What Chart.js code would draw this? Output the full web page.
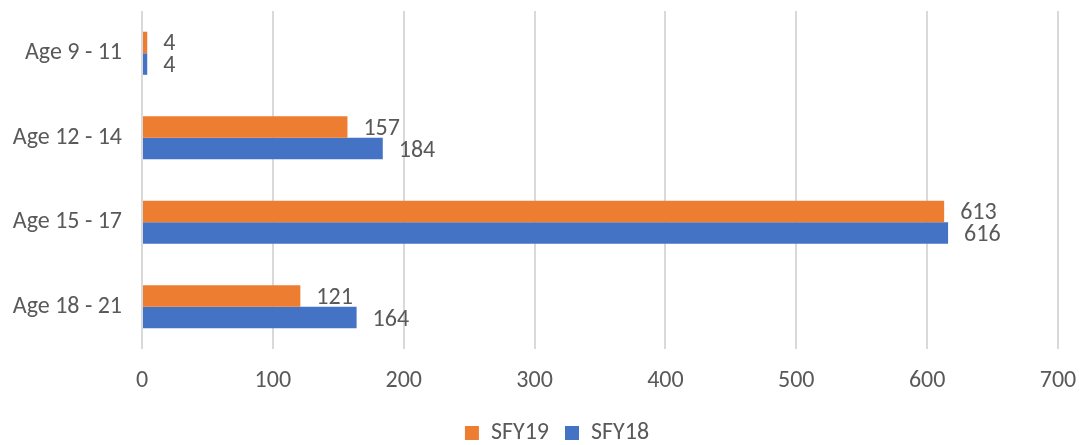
<!DOCTYPE html>
<html>
<head>
<meta charset="utf-8">
<script src="https://cdn.jsdelivr.net/npm/chart.js@4/dist/chart.umd.min.js"></script>
<style>
  html, body { margin: 0; padding: 0; background: #fff; }
  #wrap { width: 1081px; height: 445px; }
</style>
</head>
<body>
<div id="wrap"><canvas id="ageChart"></canvas></div>
<script>
'use strict';

const categories = ['Age 9 - 11', 'Age 12 - 14', 'Age 15 - 17', 'Age 18 - 21'];
const sfy19 = [4, 157, 613, 121];
const sfy18 = [4, 184, 616, 164];
const xTicks = [0, 100, 200, 300, 400, 500, 600, 700];

const textColor = '#595959';
const fontFamily = "Carlito, 'Open Sans', Lato, sans-serif";
const fontSize = 24;

// draws the value next to the end of each bar
const barLabels = {
    id: 'barLabels',
    afterLayout(chart) {
        // legend sits a bit right of centre in the original
        chart.legend.left += 28;
        chart.legend.right += 28;
    },
    afterDatasetsDraw(chart) {
        const ctx = chart.ctx;
        ctx.save();
        ctx.fillStyle = textColor;
        ctx.font = fontSize + 'px ' + fontFamily;
        ctx.textBaseline = 'middle';
        ctx.textAlign = 'left';
        chart.data.datasets.forEach((ds, i) => {
            const meta = chart.getDatasetMeta(i);
            meta.data.forEach((bar, j) => {
                ctx.fillText(ds.data[j], bar.x + 16, bar.y + 2);
            });
        });
        ctx.restore();
    }
};

new Chart('ageChart', {
    type: 'bar',
    data: {
        labels: categories,
        datasets: [
            { label: 'SFY19', data: sfy19, backgroundColor: '#ED7D31' },
            { label: 'SFY18', data: sfy18, backgroundColor: '#4472C4' }
        ]
    },
    options: {
        indexAxis: 'y',
        responsive: true,
        maintainAspectRatio: false,
        animation: false,
        categoryPercentage: 0.51,
        barPercentage: 1.0,
        layout: { padding: { top: 11, right: 23, left: 0, bottom: -10 } },
        scales: {
            x: {
                min: 0,
                max: 700,
                afterBuildTicks: (axis) => { axis.ticks = xTicks.map(v => ({ value: v })); },
                afterFit: (axis) => {
                    axis.height = 56;
                    axis.paddingLeft = 0;
                    axis.paddingRight = 0;
                },
                grid: { color: '#d9d9d9', lineWidth: 2, drawTicks: false },
                border: { display: false },
                ticks: { color: textColor, font: { size: fontSize, family: fontFamily }, padding: 18 }
            },
            y: {
                afterFit: (axis) => {
                    axis.width = 142;
                    axis.paddingTop = 0;
                    axis.paddingBottom = 0;
                },
                grid: { display: false },
                border: { display: false },
                ticks: { color: textColor, font: { size: fontSize, family: fontFamily }, padding: 12 }
            }
        },
        plugins: {
            legend: {
                position: 'bottom',
                labels: {
                    color: textColor,
                    font: { size: fontSize, family: fontFamily },
                    boxWidth: 14,
                    boxHeight: 14,
                    padding: 16
                }
            },
            tooltip: { enabled: false }
        }
    },
    plugins: [barLabels]
});
</script>
</body>
</html>
